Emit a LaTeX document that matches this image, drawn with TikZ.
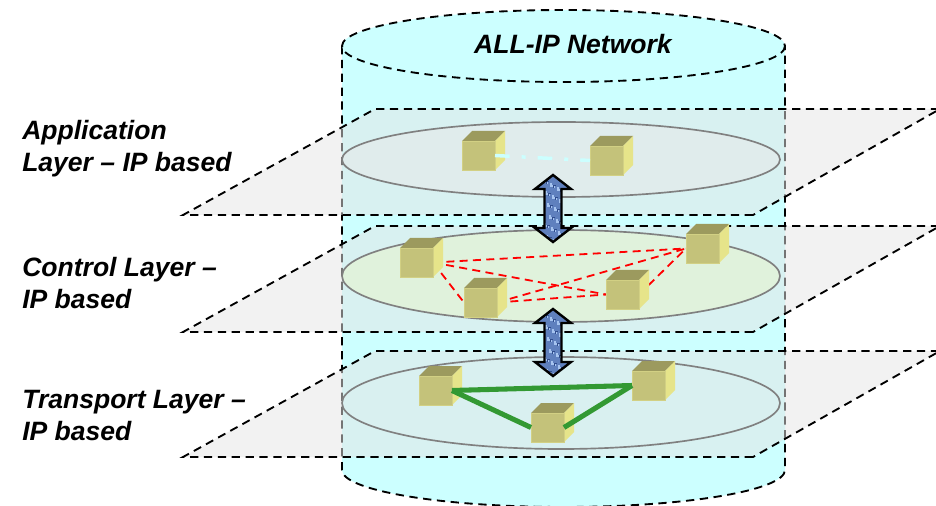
\documentclass[tikz,border=0pt]{standalone}
\usepackage{fontspec}
\setmainfont{Liberation Sans}
\definecolor{cyl}{HTML}{CCFFFF}
\definecolor{cubefront}{HTML}{C4C27A}
\definecolor{cubeedge}{HTML}{D2D084}
\definecolor{cubetop}{HTML}{9C9A5E}
\definecolor{cubeside}{HTML}{E6E48A}
\definecolor{arrowblue}{HTML}{5F80BE}
\definecolor{arrowlight}{HTML}{A6C4F0}
\definecolor{arrowdark}{HTML}{2F4C8C}
\definecolor{appfill}{HTML}{E0ECEC}
\definecolor{ctlfill}{HTML}{E0F2DC}
\definecolor{trnfill}{HTML}{D9F0F0}
\definecolor{linkgreen}{HTML}{339933}
\pgfdeclarelayer{cubes}
\pgfsetlayers{main,cubes}
\tikzset{
  dashline/.style={draw=black,line width=1.4pt,dash pattern=on 6.2pt off 4.2pt},
  planefill/.style={fill=black!10,fill opacity=.51,draw=none},
  layerring/.style={draw=black!50,line width=1.25pt},
  cubebody/.style={rectangle,minimum width=24.75pt,minimum height=21.75pt,inner sep=0pt,outer sep=0pt,fill=cubefront,draw=cubeedge,line width=.6pt},
  signal/.style={red,line width=1.35pt,dash pattern=on 6pt off 4pt},
  link/.style={draw=linkgreen,line width=3.8pt},
  appsignal/.style={cyl,line width=2.6pt,dash pattern=on 11pt off 9pt on 3pt off 9pt},
  updown/.style={draw=black,line width=1.8pt,line join=miter},
  lab/.style={font=\fontsize{19.9pt}{24.2pt}\selectfont\bfseries\itshape,align=left,anchor=west,inner sep=0pt,text=black},
}
\newcommand{\plate}[1]{%
  \fill[planefill] (183,#1+106) -- (375,#1) -- (940,#1) -- (753,#1+106) -- cycle;
  \draw[dashline] (753,#1+106) -- (183,#1+106) -- (375,#1) -- (940,#1) -- (753,#1+106);
}
\newcommand{\cube}[3]{%
  \fill[cubetop] (#2,#3) -- (#2+10,#3-10) -- (#2+43,#3-10) -- (#2+33,#3) -- cycle;
  \fill[cubeside] (#2+33,#3) -- (#2+43,#3-10) -- (#2+43,#3+19) -- (#2+33,#3+29) -- cycle;
  \node[cubebody] (#1) at (#2+16.5,#3+14.5) {};
}
\newcommand{\blockarrow}[2]{%
  \def\uppath{(#1,#2) -- (#1+18,#2+14) -- (#1+8.5,#2+14) -- (#1+8.5,#2+53) -- (#1+18,#2+53) -- (#1,#2+67) -- (#1-18,#2+53) -- (#1-8.5,#2+53) -- (#1-8.5,#2+14) -- (#1-18,#2+14) -- cycle}%
  \fill[arrowblue] \uppath;
  \begin{scope}
    \clip \uppath;
    \foreach \i in {0,...,15}{
      \pgfmathsetmacro{\sx}{#1-9+mod(\i*7,19)}
      \pgfmathsetmacro{\sy}{#2+4+\i*4}
      \draw[arrowlight,line width=.8pt] (\sx,\sy) -- ++(0,3) -- ++(3,0) -- ++(0,2);
      \draw[arrowdark,line width=.6pt] (\sx+5,\sy+2) -- ++(-3,0) -- ++(0,3);
    }
  \end{scope}
  \draw[updown] \uppath;
}
\begin{document}
\begin{tikzpicture}[x=0.75pt,y=-0.75pt]
\useasboundingbox (0,0) rectangle (936,506);
\clip (0,0) rectangle (936,506);
% cylinder
\fill[cyl] (342,46) -- (342,470) arc[start angle=180,end angle=0,x radius=221.5,y radius=37] -- (785,46) -- cycle;
\draw[dashline] (342,46) -- (342,470) arc[start angle=180,end angle=0,x radius=221.5,y radius=37] -- (785,46);
\fill[cyl] (563.5,46) ellipse[x radius=221.5,y radius=36];
\draw[dashline] (563.5,46) ellipse[x radius=221.5,y radius=36];
\node[lab,anchor=center] (title) at (573,44) {ALL-IP Network};
% planes
\plate{109}
\plate{226}
\plate{351}
% layer rings
\draw[layerring,fill=appfill] (561,159.5) ellipse[x radius=219,y radius=37.5];
\draw[layerring,fill=ctlfill] (561,276) ellipse[x radius=219,y radius=46];
\draw[layerring,fill=trnfill] (561,403) ellipse[x radius=219,y radius=46];
% application layer
\cube{a1}{462}{141}
\cube{a2}{590}{146}
\draw[appsignal] (a1.east) -- (a2.west);
% control layer: cubes sit above the signalling lines
\begin{pgfonlayer}{cubes}
\cube{c1}{400}{248}
\cube{c2}{464}{288}
\cube{c3}{606}{280}
\cube{c4}{686}{234}
\end{pgfonlayer}
\draw[signal] (c1.east) -- (c4.west);
\draw[signal] (c1.east) -- (c3.west);
\draw[signal] (c1.east) -- (c2.west);
\draw[signal] (c2.east) -- (c3.west);
\draw[signal] (c2.east) -- (c4.west);
\draw[signal] (c3.east) -- (c4.west);
% transport layer
\cube{t1}{419}{376}
\cube{t2}{531}{413}
\cube{t3}{632}{371}
\draw[link] (t1.east) -- (t3.west);
\draw[link] (t1.east) -- (t2.west);
\draw[link] (t3.west) -- (t2.east);
% arrows
\blockarrow{553}{175}
\blockarrow{553}{309}
% labels
\node[lab] (applab) at (22,148.5) {Application\\Layer – IP based};
\node[lab] (ctllab) at (22,283) {Control Layer –\\IP based};
\node[lab] (trnlab) at (22,415.5) {Transport Layer –\\IP based};
\end{tikzpicture}
\end{document}
